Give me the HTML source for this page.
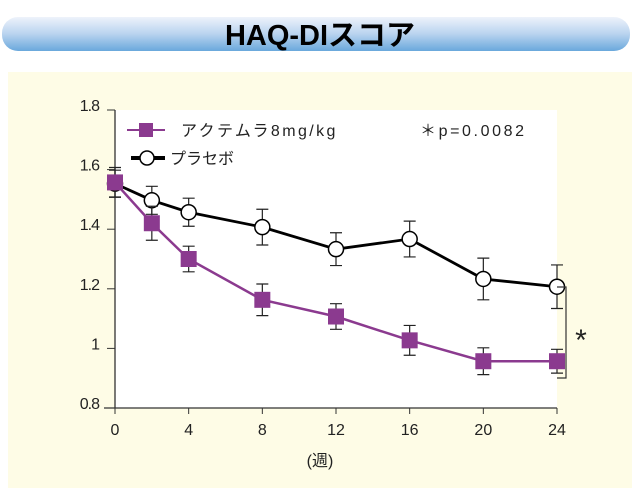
<!DOCTYPE html>
<html><head><meta charset="utf-8"><style>
body{margin:0;width:640px;height:488px;background:#fff;overflow:hidden;font-family:"Liberation Sans","Noto Sans CJK JP",sans-serif}
</style></head><body>
<svg width="640" height="488" viewBox="0 0 640 488">
<defs><linearGradient id="tg" x1="0" y1="0" x2="0" y2="1">
<stop offset="0" stop-color="#eef3fb"/><stop offset="0.5" stop-color="#b9d3ef"/><stop offset="1" stop-color="#6aa8dc"/></linearGradient></defs>
<rect x="2" y="17" width="628" height="34" rx="16" fill="url(#tg)"/>
<text x="320" y="45" text-anchor="middle" font-size="29" font-weight="bold" fill="#000" font-family="Liberation Sans Narrow,Liberation Sans,'Noto Sans CJK JP',sans-serif">HAQ-DIスコア</text>
<rect x="8" y="72" width="624" height="416" fill="#fefce6"/>
<rect x="115" y="110" width="442" height="298" fill="#fff"/>
<g id="axes" font-size="16" fill="#222"></g>
<g id="marks"></g>
<g font-size="16">
<line x1="127" y1="130" x2="165" y2="130" stroke="#8b3a8f" stroke-width="2"/>
<rect x="139" y="123" width="14" height="14" fill="#8b3a8f"/>
<text x="181" y="136" fill="#222" letter-spacing="2.4">アクテムラ8mg/kg</text>
<text x="420" y="136" fill="#222" letter-spacing="2.6">＊p=0.0082</text>
<line x1="131" y1="158" x2="165" y2="158" stroke="#000" stroke-width="4"/>
<circle cx="147" cy="158" r="7" fill="#fff" stroke="#000" stroke-width="1.5"/>
<text x="170" y="164" fill="#222">プラセボ</text>
</g>
<path d="M557 287 H566 V378 H557" fill="none" stroke="#333" stroke-width="1.2"/>
<text x="581" y="350" font-size="30" text-anchor="middle" fill="#222">*</text>
<text x="320" y="466" text-anchor="middle" font-size="16" fill="#222">(週)</text>
</svg>
<script>
const weeks=[0,2,4,8,12,16,20,24];
const placebo=[1.553,1.497,1.457,1.407,1.333,1.367,1.233,1.207];
const placeboErr=[0.045,0.047,0.047,0.06,0.055,0.06,0.07,0.073];
const actemra=[1.557,1.42,1.30,1.163,1.107,1.027,0.957,0.957];
const actemraErr=[0.05,0.057,0.043,0.053,0.043,0.05,0.045,0.04];
const yTicks=[0.8,1,1.2,1.4,1.6,1.8];
const yTickLabels=["0.8","1","1.2","1.4","1.6","1.8"];
const xTicks=[0,4,8,12,16,20,24];
const NS="http://www.w3.org/2000/svg";
const X=w=>115+w*(442/24);
const Y=v=>408-(v-0.8)*298;
function mk(t,a,p){const e=document.createElementNS(NS,t);for(const k in a)e.setAttribute(k,a[k]);p.appendChild(e);return e;}
const ax=document.getElementById('axes');
const yl=mk('line',{x1:115,y1:110,x2:115,y2:408,stroke:'#333','stroke-width':1.3},ax);


const xl=mk('line',{x1:104,y1:408,x2:557,y2:408,stroke:'#333','stroke-width':1.3},ax);


yTicks.forEach((v,i)=>{mk('line',{x1:107,y1:Y(v),x2:115,y2:Y(v),stroke:'#333'},ax);
const t=mk('text',{x:99,y:Y(v)+1,'text-anchor':'end','letter-spacing':'-1'},ax);t.textContent=yTickLabels[i];

});
xTicks.forEach(w=>{mk('line',{x1:X(w),y1:408,x2:X(w),y2:414,stroke:'#333'},ax);
const t=mk('text',{x:X(w),y:435,'text-anchor':'middle'},ax);t.textContent=w;

});
const g=document.getElementById('marks');
function series(vals,errs,color,lw,name,marker){
 vals.forEach((v,i)=>{const x=X(weeks[i]);
  const e=mk('path',{d:`M${x} ${Y(v+errs[i])}V${Y(v-errs[i])}M${x-6} ${Y(v+errs[i])}h12M${x-6} ${Y(v-errs[i])}h12`,stroke:'#222','stroke-width':1.2,fill:'none'},g);
  
  });
 const l=mk('polyline',{points:vals.map((v,i)=>X(weeks[i])+','+Y(v)).join(' '),fill:'none',stroke:color,'stroke-width':lw},g);
 
 
 vals.forEach((v,i)=>{const x=X(weeks[i]),y=Y(v);let m;
  if(marker==='sq')m=mk('rect',{x:x-8,y:y-8,width:16,height:16,fill:color},g);
  else m=mk('circle',{cx:x,cy:y,r:7.5,fill:'#fff',stroke:'#000','stroke-width':1.5},g);
  
  });
}
series(placebo,placeboErr,'#000',2.8,'placebo','circle');
series(actemra,actemraErr,'#8b3a8f',2.5,'actemra','sq');
</script>
</body></html>
